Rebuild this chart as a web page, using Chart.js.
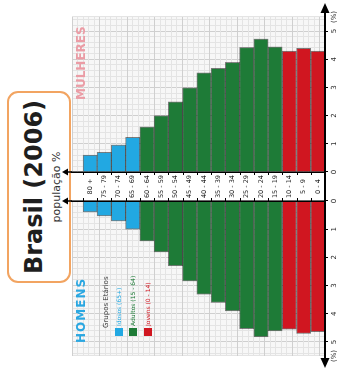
<!DOCTYPE html>
<html>
<head>
<meta charset="utf-8">
<script src="https://cdn.jsdelivr.net/npm/chart.js@4"></script>
<style>
  html, body { margin: 0; padding: 0; background: #fff; overflow: hidden; }
  #page { position: relative; width: 342px; height: 372px; overflow: hidden; }
  /* the pyramid is laid out upright, then turned a quarter turn */
  #stage { position: absolute; left: 0; top: 0; width: 372px; height: 342px;
           transform-origin: 0 0; transform: translateY(372px) rotate(-90deg);
           font-family: "DejaVu Sans", sans-serif; }
  canvas { position: absolute; top: 0; }
  #cM { left: 0; }
  #cW { left: 166px; }
  .box { position: absolute; left: 89px; top: 7px; width: 188px; height: 60px;
         border: 2px solid #F2A461; border-radius: 11px; background: #fff; }
  .title { position: absolute; left: 89px; width: 192px; top: 21px; text-align: center;
           font-weight: bold; font-size: 24px; line-height: 26px; color: #1e1e1e; }
  .sub { position: absolute; left: 89px; width: 192px; top: 51px; text-align: center;
         font-size: 11px; line-height: 12px; color: #333; }
  .side { position: absolute; top: 74px; font-weight: bold; font-size: 12px; line-height: 14px; }
  .lg-title { position: absolute; left: 44px; top: 102px; font-size: 7px; line-height: 8px; color: #444; }
  .sw { position: absolute; left: 36px; width: 8px; height: 8px; }
  .lg { position: absolute; left: 46px; font-size: 6px; line-height: 8px; white-space: nowrap; }
</style>
</head>
<body>
<div id="page">
  <div id="stage">
    <div class="box"></div>
    <div class="title">Brasil (2006)</div>
    <div class="sub">população %</div>
    <canvas id="cM" width="176" height="342"></canvas>
    <canvas id="cW" width="206" height="342"></canvas>
    <div class="side" style="left:272px;color:#EB9CA5;">MULHERES</div>
    <div class="side" style="left:29px;color:#2AA7E1;letter-spacing:1px;">HOMENS</div>
    <div class="lg-title">Grupos Etários</div>
    <div id="legend"></div>
  </div>
</div>
<script>
// Age groups, oldest first
const ageGroups = ['80 +', '75 - 79', '70 - 74', '65 - 69', '60 - 64', '55 - 59', '50 - 54',
                   '45 - 49', '40 - 44', '35 - 39', '30 - 34', '25 - 29', '20 - 24', '15 - 19',
                   '10 - 14', '5 - 9', '0 - 4'];
// Share of the population (%) in each age group
const womenPct = [0.60, 0.70, 0.96, 1.23, 1.60, 2.00, 2.49, 2.99, 3.52, 3.68, 3.89, 4.42, 4.72, 4.44, 4.29, 4.39, 4.29];
const menPct   = [0.39, 0.53, 0.71, 1.00, 1.42, 1.81, 2.30, 2.84, 3.31, 3.60, 3.90, 4.53, 4.82, 4.61, 4.55, 4.70, 4.64];
// Broad age bands and the band of each age group
const bandNames  = ['Idosos (65+)', 'Adultos (15 - 64)', 'Jovens (0 - 14)'];
const bandColors = ['#22A8E2', '#1E7B37', '#D01620'];
const bandOfAge  = [0, 0, 0, 0, 1, 1, 1, 1, 1, 1, 1, 1, 1, 1, 2, 2, 2];
const pctEndLabel = '(%)';

Chart.defaults.font.family = '"DejaVu Sans", sans-serif';

// legend
const legend = document.getElementById('legend');
const rowTops = [115, 129, 144];
bandNames.forEach((name, i) => {
  const sw = document.createElement('div');
  sw.className = 'sw'; sw.style.top = rowTops[i] + 'px'; sw.style.background = bandColors[i];
  const tx = document.createElement('div');
  tx.className = 'lg'; tx.style.top = rowTops[i] + 'px'; tx.style.color = bandColors[i];
  tx.textContent = name;
  legend.appendChild(sw); legend.appendChild(tx);
});

function stepTicks(max, step) {
  const t = [];
  const n = Math.round(max / step);
  for (let k = 0; k <= n; k++) t.push({ value: Math.round(k * step * 1000) / 1000 });
  return t;
}
const isWhole = v => Math.abs(v - Math.round(v)) < 1e-6;
const gridColor = ctx => (ctx.tick && isWhole(ctx.tick.value)) ? '#CFCFCF' : '#E4E4E4';

function valueAxis(reverse) {
  return {
    type: 'linear', min: 0, max: 5.5, reverse,
    afterBuildTicks: s => { s.ticks = stepTicks(5.4, 0.2).concat([{ value: 5.5 }]); },
    ticks: { autoSkip: false, maxRotation: 0, padding: 2, font: { size: 7 }, color: '#222',
             callback: v => v === 5.5 ? pctEndLabel : (isWhole(v) ? String(Math.round(v)) : '') },
    grid: { color: gridColor, lineWidth: 1, tickLength: 3,
            tickColor: ctx => (ctx.tick && isWhole(ctx.tick.value)) ? '#000' : 'rgba(0,0,0,0)' },
    border: { display: true, color: '#000', width: 2, z: 1 },
    afterFit: s => { s.height = 17; s.paddingLeft = 0; s.paddingRight = 0; }
  };
}

function ageAxis(position, showLabels) {
  return {
    type: 'linear', position, min: -1.27, max: 16.5, reverse: true, offset: false,
    afterBuildTicks: s => { s.ticks = ageGroups.map((a, i) => ({ value: i })); },
    ticks: { display: showLabels, autoSkip: false, crossAlign: 'center', padding: 3,
             font: { size: 6.5 }, color: '#222', callback: v => ageGroups[v] },
    grid: { display: true, drawOnChartArea: false, drawTicks: false, offset: false },
    border: { display: true, color: '#000', width: 1.5, z: 1 },
    afterFit: s => { s.width = position === 'left' ? 34 : 5; s.paddingTop = 0; s.paddingBottom = 0; }
  };
}

function paperAxis(position) {
  return {
    type: 'linear', axis: 'y', position, min: 0, max: 9, reverse: true,
    afterBuildTicks: s => { s.ticks = stepTicks(9, 0.2); },
    ticks: { display: false },
    grid: { color: gridColor, drawTicks: false },
    border: { display: false },
    afterFit: s => { s.width = 0; }
  };
}

// grid paper behind the bars, and the arrowed axes
const axesDecor = {
  id: 'axesDecor',
  beforeDraw(chart) {
    const { ctx, chartArea: a } = chart;
    ctx.save();
    ctx.fillStyle = '#F7F7F7';
    ctx.fillRect(a.left, a.top, a.width, a.height);
    ctx.restore();
  },
  afterDraw(chart, args, o) {
    const { ctx, chartArea: a } = chart;
    const iy = chart.scales.y;
    const cx = o.center === 'left' ? a.left : a.right;
    const into = o.center === 'left' ? -1 : 1;
    ctx.save();
    ctx.fillStyle = '#000';
    ctx.strokeStyle = '#000';
    // age axis runs on past the grid and ends in an arrowhead
    ctx.lineWidth = 1.5;
    ctx.beginPath(); ctx.moveTo(cx, a.top); ctx.lineTo(cx, o.tipY + 5); ctx.stroke();
    ctx.beginPath(); ctx.moveTo(cx, o.tipY); ctx.lineTo(cx - 3.5, o.tipY + 6); ctx.lineTo(cx + 3.5, o.tipY + 6);
    ctx.closePath(); ctx.fill();
    // marks between age groups
    ctx.lineWidth = 1;
    for (let i = 0; i <= ageGroups.length; i++) {
      const y = Math.round(iy.getPixelForValue(i - 0.5)) + 0.5;
      ctx.beginPath(); ctx.moveTo(cx, y); ctx.lineTo(cx + into * 3, y); ctx.stroke();
    }
    // percentage axis: arrow at the outer end, line across the central strip
    const vy = a.bottom;
    const out = o.far === 'right' ? 1 : -1;
    const farX = o.far === 'right' ? a.right : a.left;
    ctx.lineWidth = 2;
    ctx.beginPath(); ctx.moveTo(farX, vy); ctx.lineTo(o.tipX - out * 8, vy); ctx.stroke();
    ctx.beginPath(); ctx.moveTo(o.tipX, vy); ctx.lineTo(o.tipX - out * 10, vy - 4.5); ctx.lineTo(o.tipX - out * 10, vy + 4.5);
    ctx.closePath(); ctx.fill();
    const nearX = o.far === 'right' ? a.left : a.right;
    const edge = o.far === 'right' ? 0 : chart.width;
    ctx.beginPath(); ctx.moveTo(nearX, vy); ctx.lineTo(edge, vy); ctx.stroke();
    ctx.restore();
  }
};

function pyramidSide(canvasId, label, values, reverse, agePos, showAges, padding, decor) {
  return new Chart(document.getElementById(canvasId), {
    type: 'bar',
    data: {
      labels: ageGroups,
      datasets: [{
        label,
        data: values.map((v, i) => ({ x: v, y: i })),
        backgroundColor: bandOfAge.map(b => bandColors[b]),
        borderColor: 'rgba(0,0,0,0.5)',
        borderWidth: 1,
        barPercentage: 1,
        categoryPercentage: 1
      }]
    },
    options: {
      indexAxis: 'y',
      responsive: false,
      animation: false,
      events: [],
      layout: { padding },
      plugins: { legend: { display: false }, tooltip: { enabled: false }, axesDecor: decor },
      scales: { x: valueAxis(reverse), y: ageAxis(agePos, showAges), yg: paperAxis(agePos) }
    },
    plugins: [axesDecor]
  });
}

pyramidSide('cM', 'Homens', menPct, true, 'right', false,
            { top: 72, left: 16, right: 0, bottom: 0 },
            { center: 'right', far: 'left', tipX: 4, tipY: 62 });
pyramidSide('cW', 'Mulheres', womenPct, false, 'left', true,
            { top: 72, left: 0, right: 17, bottom: 0 },
            { center: 'left', far: 'right', tipX: 203, tipY: 62 });
</script>
</body>
</html>
